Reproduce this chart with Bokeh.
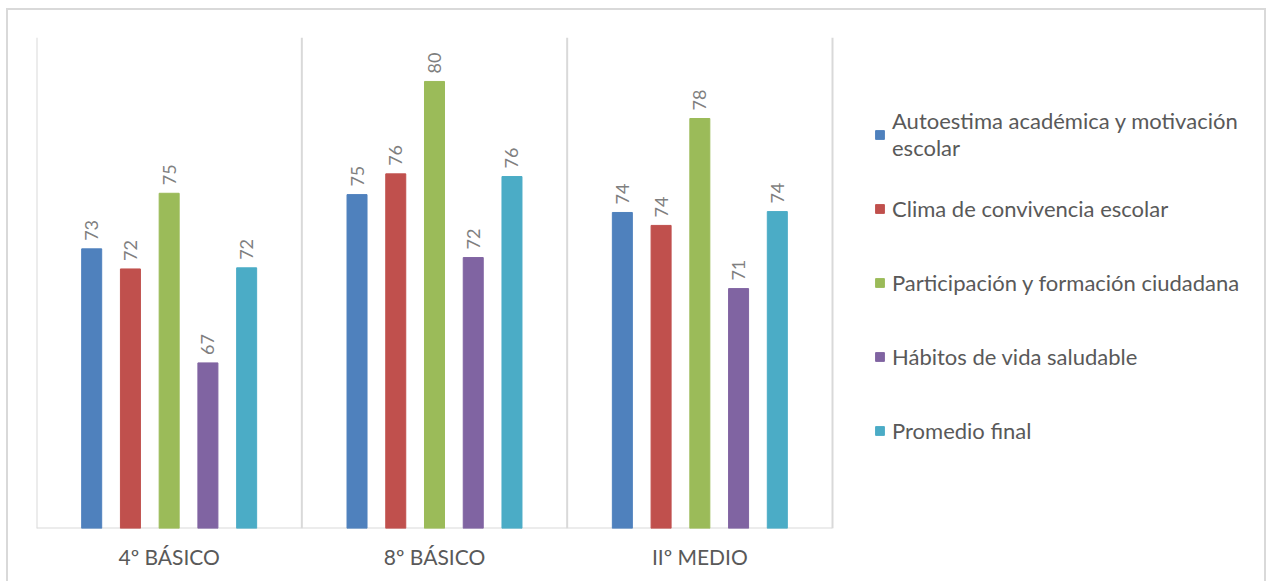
from bokeh.plotting import figure
from bokeh.models import Range1d, ColumnDataSource, Span, Legend, LegendItem, FixedTicker
from bokeh.core.properties import value
from bokeh.embed import file_html
from bokeh.resources import INLINE

categories = ["4º BÁSICO", "8º BÁSICO", "IIº MEDIO"]
series_names = [
    "Autoestima académica y motivación\nescolar",
    "Clima de convivencia escolar",
    "Participación y formación ciudadana",
    "Hábitos de vida saludable",
    "Promedio final",
]
autoestima = [72.53, 74.96, 74.16]
clima = [71.63, 75.89, 73.58]
participacion = [75.02, 80.03, 78.37]
habitos = [67.42, 72.14, 70.75]
promedio = [71.68, 75.77, 74.20]
series_values = [autoestima, clima, participacion, habitos, promedio]
colors = ["#4F81BD", "#C0504D", "#9BBB59", "#8064A2", "#4BACC6"]

FONT = "Lato"
GRID = "#d9d9d9"
n = len(categories)
frame_w = 1230
cat_w = 796
ymin = 60

p = figure(
    x_range=Range1d(0, n * frame_w / cat_w),
    y_range=Range1d(ymin, 82),
    width=1260, height=573,
    output_backend="svg", toolbar_location=None,
    min_border_left=28, min_border_top=27, min_border_right=2, min_border_bottom=55,
)
p.styles = {"border-left": "2px solid " + GRID, "border-top": "2px solid " + GRID,
            "border-right": "2px solid " + GRID, "margin-left": "6px", "margin-top": "8px"}
p.outline_line_color = None
p.yaxis.visible = False
p.ygrid.visible = False
p.xgrid.visible = False

for loc in range(n + 1):
    p.add_layout(Span(location=loc, dimension="height", line_color=GRID, line_width=2))
p.line(x=[0, n], y=[ymin, ymin], line_color=GRID, line_width=2)

centers = [i + 0.5 for i in range(n)]
step = 0.146
items = []
for j, (name, vals, col) in enumerate(zip(series_names, series_values, colors)):
    xs = [c + (j - 2) * step for c in centers]
    src = ColumnDataSource(dict(x=xs, val=vals, lab=[str(round(v)) for v in vals]))
    r = p.vbar(x="x", top="val", bottom=ymin, width=0.0754,
               source=src, fill_color=col, line_color=col)
    p.text(x="x", y="val", text="lab", source=src,
           angle=1.5708, text_align="left", text_baseline="middle", y_offset=-8,
           text_font=value(FONT), text_font_size="18px", text_color="#7f7f7f")
    items.append(LegendItem(label=name, renderers=[r]))

legend = Legend(items=items, location=(838, 68), margin=0, padding=10,
                glyph_width=11, glyph_height=11, label_standoff=7,
                label_height=60, spacing=14,
                label_text_font=FONT, label_text_font_size="22px", label_text_color="#595959",
                border_line_color=None, background_fill_alpha=0)
p.add_layout(legend)

p.xaxis.ticker = FixedTicker(ticks=centers)
p.xaxis.major_label_overrides = {c: lab for c, lab in zip(centers, categories)}
p.xaxis.axis_line_color = None
p.xaxis.major_tick_line_color = None
p.xaxis.minor_tick_line_color = None
p.xaxis.major_label_text_font = FONT
p.xaxis.major_label_text_font_size = "21px"
p.xaxis.major_label_text_color = "#595959"
p.xaxis.major_label_standoff = 9

open("out.html", "w").write(file_html(p, INLINE))
